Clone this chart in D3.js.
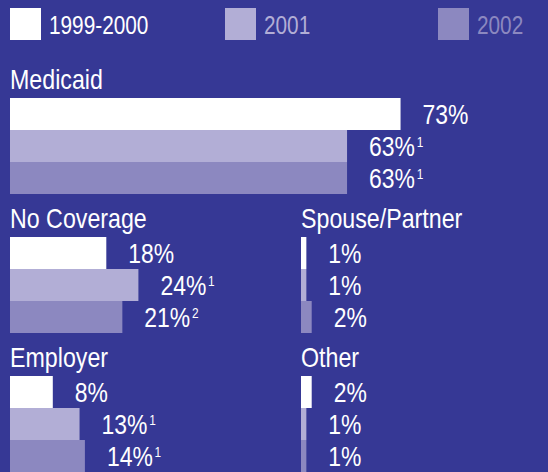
<!DOCTYPE html>
<html>
<head>
<meta charset="utf-8">
<script src="https://cdn.jsdelivr.net/npm/d3@7"></script>
<style>
  html, body { margin: 0; padding: 0; background: #363895; }
  svg text { font-family: "Liberation Sans", Arial, sans-serif; }
</style>
</head>
<body>
<div id="chart"></div>
<script>
// data
var years = ["1999-2000", "2001", "2002"];
var categories = ["Medicaid", "No Coverage", "Spouse/Partner", "Employer", "Other"];
var v1999 = [73, 18, 1, 8, 2];
var v2001 = [63, 24, 1, 13, 1];
var v2002 = [63, 21, 2, 14, 1];
// footnote marks next to the values
var notes1999 = ["", "", "", "", ""];
var notes2001 = ["1", "1", "", "1", ""];
var notes2002 = ["1", "2", "", "1", ""];

var colors = ["#ffffff", "#b2aed6", "#8c88c0"];

// panel anchors (title baseline)
var panelPos = [
    {x: 10, y: 89},
    {x: 10, y: 228},
    {x: 301, y: 228},
    {x: 10, y: 367},
    {x: 301, y: 367}
];

var width = 548, height = 472;

// no narrow font installed -> squeeze text horizontally
function place(x, y, k) {
    return "translate(" + x + "," + y + ") scale(" + k + ",1)";
}

var svg = d3.select("#chart").append("svg")
    .attr("width", width)
    .attr("height", height);

svg.append("rect")
    .attr("width", width)
    .attr("height", height)
    .attr("fill", "#363895");

var x = d3.scaleLinear().domain([0, 100]).range([0, 535]);
var y = d3.scaleBand().domain(years).range([0, 96]).padding(0);

// legend
var legendX = [10, 225, 438];
var legend = svg.append("g").attr("class", "legend")
    .selectAll("g")
    .data(years)
    .enter()
    .append("g")
    .attr("transform", function(d, i) { return "translate(" + legendX[i] + ",8)"; });

legend.append("rect")
    .attr("width", 31)
    .attr("height", 32)
    .attr("fill", function(d, i) { return colors[i]; });

legend.append("text")
    .attr("transform", place(39, 26, 0.8))
    .attr("font-size", "26px")
    .attr("fill", function(d, i) { return colors[i]; })
    .text(function(d) { return d; });

// panels
var series = [v1999, v2001, v2002];
var notes = [notes1999, notes2001, notes2002];

var panels = svg.selectAll(".panel")
    .data(categories)
    .enter()
    .append("g")
    .attr("class", "panel")
    .attr("transform", function(d, i) { return "translate(" + panelPos[i].x + "," + panelPos[i].y + ")"; });

panels.append("text")
    .attr("transform", place(0, 0, 0.86))
    .attr("font-size", "27px")
    .attr("fill", "#ffffff")
    .text(function(d) { return d; });

panels.each(function(cat, ci) {
    var g = d3.select(this).append("g").attr("transform", "translate(0,9)");
    var rows = years.map(function(yr, yi) {
        return {year: yr, idx: yi, value: series[yi][ci], note: notes[yi][ci]};
    });

    g.selectAll("rect")
        .data(rows)
        .enter()
        .append("rect")
        .attr("x", 0)
        .attr("y", function(d) { return y(d.year); })
        .attr("width", function(d) { return x(d.value); })
        .attr("height", y.bandwidth())
        .attr("fill", function(d) { return colors[d.idx]; });

    var lbl = g.selectAll("text")
        .data(rows)
        .enter()
        .append("text")
        .attr("transform", function(d) {
            return place(x(d.value) + 22, y(d.year) + y.bandwidth() / 2 + 10, 0.85);
        })
        .attr("font-size", "27px")
        .attr("fill", "#ffffff");

    lbl.append("tspan").text(function(d) { return d.value + "%"; });
    lbl.append("tspan")
        .attr("font-size", "14px")
        .attr("dy", -9)
        .attr("dx", 2)
        .text(function(d) { return d.note; });
});
</script>
</body>
</html>
